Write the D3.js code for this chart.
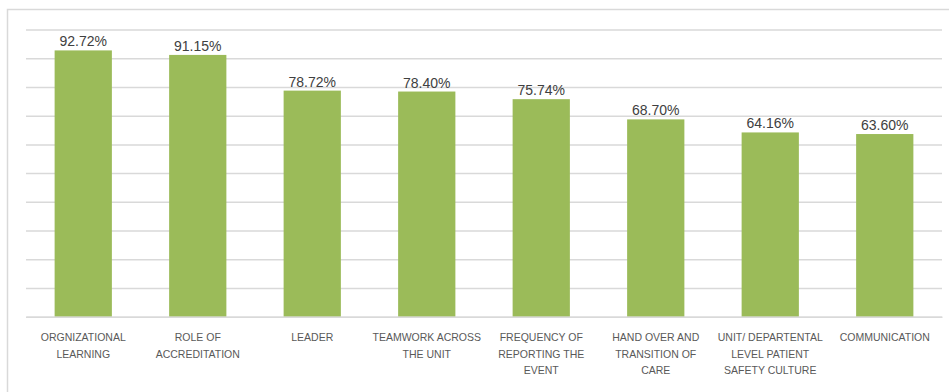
<!DOCTYPE html>
<html>
<head>
<meta charset="utf-8">
<script src="https://cdn.jsdelivr.net/npm/d3@7"></script>
<style>
  html, body { margin: 0; padding: 0; background: #fff; }
  svg { display: block; }
</style>
</head>
<body>
<svg id="chart" width="949" height="392"></svg>
<script>
// Patient safety culture dimensions and their positive response rates (%)
const categories = [
  "ORGNIZATIONAL\nLEARNING",
  "ROLE OF\nACCREDITATION",
  "LEADER",
  "TEAMWORK ACROSS\nTHE UNIT",
  "FREQUENCY OF\nREPORTING THE\nEVENT",
  "HAND OVER AND\nTRANSITION OF\nCARE",
  "UNIT/ DEPARTENTAL\nLEVEL PATIENT\nSAFETY CULTURE",
  "COMMUNICATION"
];
const values = [92.72, 91.15, 78.72, 78.40, 75.74, 68.70, 64.16, 63.60];
const gridTicks = [0, 10, 20, 30, 40, 50, 60, 70, 80, 90, 100];

const svg = d3.select("#chart");
const W = 949, H = 392;
const margin = { left: 26, right: 7, top: 29.5, bottom: 75.3 };
const plotW = W - margin.left - margin.right;
const plotH = H - margin.top - margin.bottom;

// outer chart frame (open on the right and bottom)
svg.append("path")
  .attr("d", `M7.5,${H} V9.5 H${W}`)
  .attr("fill", "none")
  .attr("stroke", "#d9d9d9")
  .attr("stroke-width", 1.5);

const g = svg.append("g").attr("transform", `translate(${margin.left},${margin.top})`);

const x = d3.scaleBand().domain(categories).range([0, plotW]).paddingInner(0.5).paddingOuter(0.25);
const y = d3.scaleLinear().domain([0, 100]).range([plotH, 0]);

// horizontal gridlines
g.append("g")
  .call(d3.axisLeft(y).tickValues(gridTicks).tickSize(-plotW).tickFormat(""))
  .call(s => s.select(".domain").remove())
  .call(s => s.selectAll(".tick line").attr("stroke", "#d9d9d9").attr("stroke-width", 1.5));

// bars
g.selectAll("rect.bar")
  .data(values)
  .join("rect")
  .attr("class", "bar")
  .attr("x", (d, i) => x(categories[i]))
  .attr("y", d => y(d))
  .attr("width", x.bandwidth())
  .attr("height", d => y(0) - y(d))
  .attr("fill", "#9bbb59");

// value labels
g.selectAll("text.val")
  .data(values)
  .join("text")
  .attr("class", "val")
  .attr("x", (d, i) => x(categories[i]) + x.bandwidth() / 2)
  .attr("y", d => y(d) - 4)
  .attr("text-anchor", "middle")
  .attr("font-family", "'Liberation Sans', Arial, sans-serif")
  .attr("font-size", 14)
  .attr("fill", "#404040")
  .text(d => d.toFixed(2) + "%");

// category axis labels
const xAxis = g.append("g")
  .attr("transform", `translate(0,${plotH})`)
  .call(d3.axisBottom(x).tickSize(0).tickFormat(""));
xAxis.select(".domain").attr("stroke", "#d9d9d9").attr("stroke-width", 1.5);

xAxis.selectAll(".tick").each(function (d) {
  const t = d3.select(this).append("text")
    .attr("fill", "#595959")
    .attr("font-family", "'Liberation Sans', Arial, sans-serif")
    .attr("font-size", 10.5)
    .attr("text-anchor", "middle")
    .attr("y", 24.5);
  d.split("\n").forEach((line, i) => {
    t.append("tspan").attr("x", 0).attr("dy", i === 0 ? 0 : 16.5).text(line);
  });
});
</script>
</body>
</html>
